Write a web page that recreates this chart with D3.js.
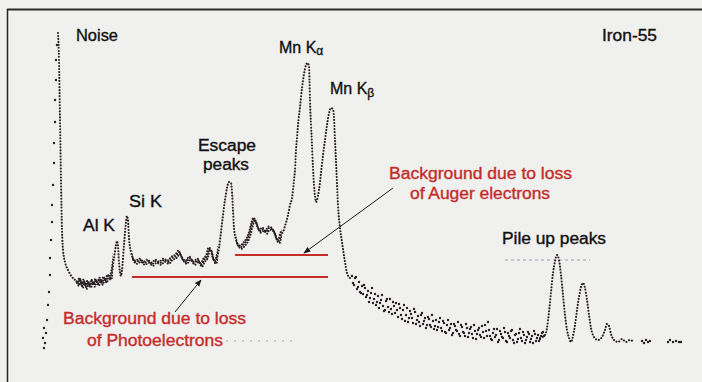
<!DOCTYPE html>
<html>
<head>
<meta charset="utf-8">
<script src="https://cdn.jsdelivr.net/npm/d3@7/dist/d3.min.js"></script>
<style>
  html, body { margin: 0; padding: 0; background: #f0f0ef; }
  svg { display: block; }
  text { font-family: "Liberation Sans", Arial, sans-serif; }
</style>
</head>
<body>
<svg id="chart"></svg>
<script>
// Fe-55 pulse height spectrum (channel, counts in arbitrary units)

// smooth part: noise fall, Al K valley, Al K / Si K, flat background, escape peaks, Mn K alpha / beta
const mainChannels = [
  2, 4, 6, 8, 10, 12, 16, 22, 30, 38,
  42, 46, 50, 54, 58, 62, 66, 70, 74, 78, 82, 86, 90, 94, 98, 102, 106, 110,
  114, 118, 120, 122, 124, 128, 130, 134, 138, 140, 142, 144, 148, 152,
  158, 166, 174, 182, 190, 198, 206, 214, 222, 230, 238, 244, 250, 258, 266, 274, 282, 288, 294, 300, 304, 308, 312, 316, 320,
  324, 328, 332, 336, 340, 344, 348, 350, 352, 354, 358, 362, 368, 374, 380, 386, 390, 394, 398, 402, 406, 412, 418, 424, 430, 436, 440, 444, 448,
  452, 456, 462, 466, 470, 474, 476, 478, 480, 482, 486, 490, 494, 498, 501, 504, 505, 506, 508, 510, 512, 514, 516, 518, 520,
  524, 528, 532, 536, 540, 544, 548, 552, 554, 556, 559, 562, 566, 570, 576, 580, 586
]
const mainCounts = [
  322, 295, 235, 175, 125, 105, 93, 85, 78, 74,
  71, 76, 69, 74, 68, 73, 69, 74, 70, 75, 71, 76, 72, 77, 74, 79, 77, 83,
  97, 110, 114, 109, 93, 79, 85, 110, 133, 139, 135, 117, 103, 96,
  93, 95, 92, 94, 91, 94, 92, 95, 93, 97, 99, 103, 97, 93, 97, 92, 95, 90, 95, 99, 106, 105, 97, 93, 97,
  107, 123, 140, 155, 167, 173, 172, 163, 145, 127, 115, 110, 108, 111, 115, 123, 131, 136, 133, 127, 124, 126, 123, 127, 126, 121, 115, 114, 121,
  123, 129, 140, 150, 157, 175, 185, 205, 217, 230, 248, 267, 281, 290, 292, 289, 275, 255, 230, 210, 187, 170, 159, 153, 155,
  165, 182, 200, 215, 230, 242, 247, 246, 237, 215, 183, 150, 127, 113, 93, 82, 77
]

// rising edge of the noise peak (sparse dots)
const noiseChannels = [-26, -24, -28, -22, -26, -20, -18, -16, -14, -14, -12, -10, -10, -8, -6, -6, -4, -4, -2, -2, 0]
const noiseCounts = [7, 12, 17, 22, 27, 35, 50, 63, 80, 97, 115, 133, 150, 170, 192, 212, 233, 255, 275, 295, 310]

// scattered tail after Mn K beta, two interleaved channel sets
const tailChannelsA = d3.range(590, 975, 4)
const tailCountsA = [
  79, 70, 78, 68, 63, 69, 70, 58, 64, 57, 67, 56, 50, 59, 52, 60, 44, 54, 48, 56,
  41, 49, 52, 38, 47, 36, 50, 40, 33, 44, 37, 46, 31, 39, 29, 42, 34, 27, 38, 30,
  40, 26, 35, 28, 37, 24, 32, 22, 35, 27, 20, 31, 25, 33, 19, 28, 22, 31, 18, 26,
  21, 30, 16, 25, 20, 29, 17, 24, 33, 19, 15, 26, 20, 13, 24, 18, 27, 14, 22, 17,
  25, 12, 21, 16, 26, 14, 20, 15, 23, 13, 19, 24, 14, 20, 16, 22, 19
]
const tailChannelsB = d3.range(592, 973, 4)
const tailCountsB = [
  72, 77, 66, 73, 62, 61, 67, 60, 53, 62, 52, 61, 53, 47, 55, 49, 45, 56, 43, 46,
  53, 42, 45, 51, 40, 45, 34, 47, 37, 41, 32, 43, 35, 33, 40, 31, 37, 30, 36, 28,
  34, 29, 25, 33, 27, 34, 23, 30, 25, 31, 22, 29, 24, 21, 30, 23, 19, 27, 22, 28,
  17, 24, 21, 27, 18, 23, 30, 19, 25, 16, 22, 18, 26, 15, 21, 17, 23, 13, 19, 24,
  15, 20, 13, 22, 17, 23, 12, 18, 21, 16, 12, 21, 17, 14, 19, 23
]

// pile up peaks (2 x K alpha, K alpha + K beta)
const pileChannels = [
  966, 976, 980, 984, 988, 992, 996, 1000, 1004, 1008, 1012, 1016, 1020, 1024, 1028, 1032, 1036, 1040, 1044, 1048,
  1052, 1056, 1060, 1064, 1068, 1074, 1082, 1090, 1096, 1100, 1104, 1108, 1114, 1122, 1130, 1138, 1146, 1154
]
const pileCounts = [
  17, 20, 27, 43, 63, 82, 94, 100, 95, 80, 60, 40, 25, 17, 13, 19, 30, 45, 58, 68,
  72, 67, 55, 40, 27, 18, 15, 18, 25, 31, 29, 21, 15, 13, 16, 13, 15, 13
]
const endChannels = [1170, 1174, 1178, 1182, 1186, 1222, 1226, 1232, 1238, 1244, 1248]
const endCounts = [14, 12, 15, 13, 14, 13, 15, 13, 14, 13, 13]

// background levels (channel span, counts)
const photoBgChannels = [150, 542]
const photoBgCount = 78
const augerBgChannels = [356, 542]
const augerBgCount = 100

// channel spans where the trace is a noisy band rather than a clean dotted line
const noisySpans = [[38, 112], [150, 322], [358, 450]]

const width = 702
const height = 382
const ink = "#2b2024"
const red = "#c42d2a"

const svg = d3.select("#chart")
  .attr("width", width)
  .attr("height", height)

svg.append("rect")
  .attr("width", width)
  .attr("height", height)
  .attr("fill", "#f0f0ef")

const x = d3.scaleLinear().domain([0, 1280]).range([57, 697])
const y = d3.scaleLinear().domain([0, 300]).range([355, 55])

const zip = (xs, ys) => xs.map((c, i) => [c, ys[i]])

// frame (only left and top edges survive in the scan)
svg.append("line")
  .attr("x1", 7.5).attr("y1", 9).attr("x2", 7.5).attr("y2", height)
  .attr("stroke", "#262626").attr("stroke-width", 1.5)
svg.append("line")
  .attr("x1", 7).attr("y1", 9.5).attr("x2", width).attr("y2", 9.5)
  .attr("stroke", "#2a2a2a").attr("stroke-width", 2)

// faint print artefacts
svg.append("line")
  .attr("x1", 505).attr("y1", 260).attr("x2", 590).attr("y2", 260)
  .attr("stroke", "#9aa0aa").attr("stroke-width", 1).attr("stroke-dasharray", "3 3")
svg.append("line")
  .attr("x1", 226).attr("y1", 341).attr("x2", 292).attr("y2", 341)
  .attr("stroke", "#a0a6b0").attr("stroke-width", 1).attr("stroke-dasharray", "2 6")

const line = d3.line()
  .x(d => x(d[0]))
  .y(d => y(d[1]))
  .curve(d3.curveMonotoneX)

const defs = svg.append("defs")
defs.append("clipPath")
  .attr("id", "noisy")
  .selectAll("rect")
  .data(noisySpans)
  .join("rect")
  .attr("x", d => x(d[0]))
  .attr("width", d => x(d[1]) - x(d[0]))
  .attr("y", 0)
  .attr("height", height)

const spectrum = svg.append("g")
const mainPath = line(zip(mainChannels, mainCounts))

spectrum.append("path")
  .attr("d", mainPath)
  .attr("fill", "none")
  .attr("stroke", ink)
  .attr("stroke-width", 2.1)
  .attr("stroke-linecap", "round")
  .attr("stroke-dasharray", "0.01 3")

// thicken the noisy stretches with a second, shifted pass
spectrum.append("g")
  .attr("clip-path", "url(#noisy)")
  .selectAll("path")
  .data([[0.8, 1.8, 1.2], [-0.6, -1.4, 2.1]])
  .join("path")
  .attr("d", mainPath)
  .attr("transform", d => `translate(${d[0]},${d[1]})`)
  .attr("fill", "none")
  .attr("stroke", ink)
  .attr("stroke-width", 2)
  .attr("stroke-linecap", "round")
  .attr("stroke-dasharray", "0.01 2.8")
  .attr("stroke-dashoffset", d => d[2])

spectrum.append("path")
  .attr("d", line(zip(pileChannels, pileCounts)))
  .attr("fill", "none")
  .attr("stroke", ink)
  .attr("stroke-width", 2.1)
  .attr("stroke-linecap", "round")
  .attr("stroke-dasharray", "0.01 3")

const scatter = zip(noiseChannels, noiseCounts)
  .concat(zip(tailChannelsA, tailCountsA))
  .concat(zip(tailChannelsB, tailCountsB))
  .concat(zip(endChannels, endCounts))

spectrum.selectAll("circle")
  .data(scatter)
  .join("circle")
  .attr("cx", d => x(d[0]))
  .attr("cy", d => y(d[1]))
  .attr("r", 1.2)
  .attr("fill", ink)

// background due to loss of photo / Auger electrons
svg.append("line")
  .attr("x1", x(photoBgChannels[0])).attr("x2", x(photoBgChannels[1]))
  .attr("y1", y(photoBgCount)).attr("y2", y(photoBgCount))
  .attr("stroke", red).attr("stroke-width", 2)
svg.append("line")
  .attr("x1", x(augerBgChannels[0])).attr("x2", x(augerBgChannels[1]))
  .attr("y1", y(augerBgCount)).attr("y2", y(augerBgCount))
  .attr("stroke", red).attr("stroke-width", 2)

defs.append("marker")
  .attr("id", "head")
  .attr("viewBox", "0 0 10 10")
  .attr("refX", 9).attr("refY", 5)
  .attr("markerWidth", 7).attr("markerHeight", 7)
  .attr("markerUnits", "userSpaceOnUse")
  .attr("orient", "auto")
  .append("path")
  .attr("d", "M0,1L10,5L0,9Z")
  .attr("fill", "#1a1a1a")

svg.append("line")
  .attr("x1", 393).attr("y1", 188).attr("x2", 304).attr("y2", y(augerBgCount) - 2)
  .attr("stroke", "#1a1a1a").attr("stroke-width", 1)
  .attr("marker-end", "url(#head)")
svg.append("line")
  .attr("x1", 175).attr("y1", 312).attr("x2", 201).attr("y2", y(photoBgCount) + 3)
  .attr("stroke", "#1a1a1a").attr("stroke-width", 1)
  .attr("marker-end", "url(#head)")

// labels
const labels = [
  { text: "Noise", x: 76, y: 41, w: 42, color: "#111" },
  { text: "Iron-55", x: 602, y: 41, w: 55, color: "#111" },
  { text: "Escape", x: 198, y: 151, w: 58, color: "#111" },
  { text: "peaks", x: 203, y: 170, w: 46, color: "#111" },
  { text: "Si K", x: 129, y: 207, w: 33, color: "#111" },
  { text: "Al K", x: 83, y: 231, w: 32, color: "#111" },
  { text: "Pile up peaks", x: 502, y: 244, w: 104, color: "#111" },
  { text: "Background due to loss", x: 63, y: 324, w: 183, color: red },
  { text: "of Photoelectrons", x: 87, y: 346, w: 136, color: red },
  { text: "Background due to loss", x: 389, y: 179, w: 183, color: red },
  { text: "of Auger electrons", x: 410, y: 199, w: 140, color: red }
]

svg.append("g")
  .selectAll("text")
  .data(labels)
  .join("text")
  .attr("x", d => d.x)
  .attr("y", d => d.y)
  .attr("textLength", d => d.w)
  .attr("lengthAdjust", "spacingAndGlyphs")
  .attr("font-size", 16)
  .attr("fill", d => d.color)
  .attr("stroke", d => d.color)
  .attr("stroke-width", 0.35)
  .text(d => d.text)

const kAlpha = svg.append("text")
  .attr("x", 279).attr("y", 53)
  .attr("font-size", 16).attr("fill", "#111")
  .attr("stroke", "#111").attr("stroke-width", 0.35)
kAlpha.append("tspan").text("Mn K")
kAlpha.append("tspan").attr("font-size", 12).attr("dy", 2).text("α")

const kBeta = svg.append("text")
  .attr("x", 330).attr("y", 94)
  .attr("font-size", 16).attr("fill", "#111")
  .attr("stroke", "#111").attr("stroke-width", 0.35)
kBeta.append("tspan").text("Mn K")
kBeta.append("tspan").attr("font-size", 12).attr("dy", 3).text("β")
</script>
</body>
</html>
